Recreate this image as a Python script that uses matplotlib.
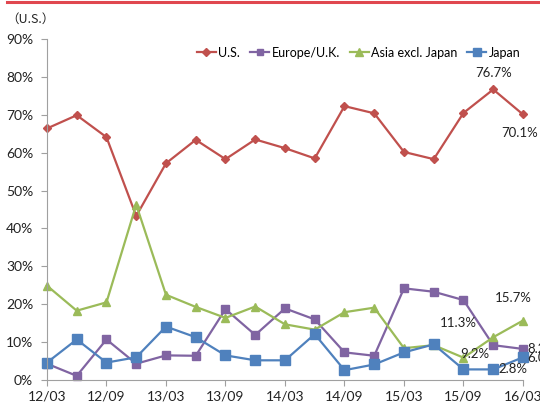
import matplotlib
matplotlib.use('Agg')
import matplotlib.pyplot as plt

plt.rcParams['font.family'] = ['Lato', 'DejaVu Sans']

quarters = ['12/03', '12/06', '12/09', '12/12', '13/03', '13/06', '13/09', '13/12',
            '14/03', '14/06', '14/09', '14/12', '15/03', '15/06', '15/09', '15/12', '16/03']

us = [66.4, 69.9, 64.1, 43.3, 57.2, 63.4, 58.3, 63.5,
      61.2, 58.5, 72.3, 70.4, 60.2, 58.3, 70.5, 76.7, 70.1]
europe = [4.3, 1.1, 10.7, 4.3, 6.5, 6.4, 18.7, 11.9,
          18.9, 16.0, 7.3, 6.4, 24.2, 23.3, 21.1, 9.2, 8.2]
asia = [24.9, 18.3, 20.5, 46.3, 22.5, 19.3, 16.4, 19.4,
        14.7, 13.3, 17.9, 19.1, 8.4, 9.2, 5.9, 11.3, 15.7]
japan = [4.6, 10.7, 4.6, 6.0, 14.1, 11.3, 6.5, 5.2,
         5.2, 12.1, 2.6, 4.1, 7.3, 9.4, 2.8, 2.8, 6.0]

series = [
    ('U.S.', us, '#C0504D', 'D', 4.5),
    ('Europe/U.K.', europe, '#8064A2', 's', 5.5),
    ('Asia excl. Japan', asia, '#9BBB59', '^', 6),
    ('Japan', japan, '#4F81BD', 's', 6.5),
]

fig = plt.figure(figsize=(5.4, 4.07), dpi=100)
ax = fig.add_axes([0.087, 0.0663, 0.8815, 0.8377])

x = list(range(len(quarters)))
for name, vals, color, marker, ms in series:
    ax.plot(x, vals, color=color, marker=marker, markersize=ms, linewidth=1.6,
            label=name, clip_on=False)

ax.set_xlim(0, len(quarters) - 1)
ax.set_ylim(0, 90)
ax.set_xticks(x[::2])
ax.set_xticklabels(quarters[::2])
ax.set_yticks(range(0, 91, 10))
ax.set_yticklabels(['%d%%' % v for v in range(0, 91, 10)])
for s in ['top', 'right']:
    ax.spines[s].set_visible(False)
for s in ['left', 'bottom']:
    ax.spines[s].set_color('#A0A0A0')
ax.tick_params(colors='#A0A0A0', labelcolor='#222222', labelsize=10, length=4)
ax.tick_params(axis='y', pad=6)

# value labels on the last two quarters
lab = dict(fontsize=9.5, color='#222222', textcoords='offset pixels')
ax.annotate('%.1f%%' % us[15], (15, us[15]), xytext=(0, 10), ha='center', va='bottom', **lab)
ax.annotate('%.1f%%' % us[16], (16, us[16]), xytext=(-3, -13), ha='center', va='top', **lab)
ax.annotate('%.1f%%' % asia[16], (16, asia[16]), xytext=(-10, 17), ha='center', va='bottom', **lab)
ax.annotate('%.1f%%' % asia[15], (15, asia[15]), xytext=(-35, 8), ha='center', va='bottom', **lab)
ax.annotate('%.1f%%' % europe[15], (15, europe[15]), xytext=(-18, -3), ha='center', va='top', **lab)
ax.annotate('%.1f%%' % japan[15], (15, japan[15]), xytext=(5, 0), ha='left', va='center', **lab)
ax.annotate('%.1f%%' % europe[16], (16, europe[16]), xytext=(4, 0), ha='left', va='center', **lab)
ax.annotate('%.1f%%' % japan[16], (16, japan[16]), xytext=(4, -1), ha='left', va='center', **lab)

ax.legend(loc='upper left', bbox_to_anchor=(0.31, 0.985), ncol=4, frameon=False,
          fontsize=9, handlelength=1.5, handletextpad=0.2, columnspacing=0.8,
          borderaxespad=0, borderpad=0.2, markerscale=0.85)

fig.text(0.012, 0.952, '（U.S.）', fontsize=9, color='#222222',
         family=['Noto Sans CJK JP', 'DejaVu Sans'], va='center')
fig.add_artist(plt.Line2D([0.013, 1.0], [0.994, 0.994], color='#E0474F', linewidth=2.2,
                          transform=fig.transFigure))

fig.savefig('out.png', dpi=100)
